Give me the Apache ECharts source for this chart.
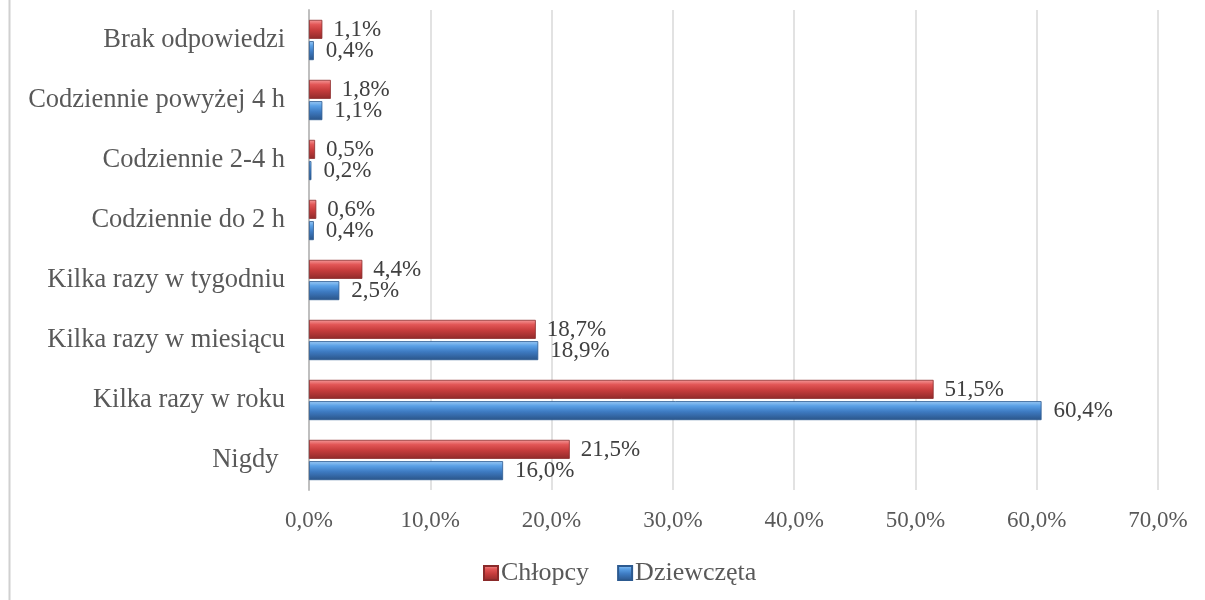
<!DOCTYPE html>
<html>
<head>
<meta charset="utf-8">
<script src="https://cdn.jsdelivr.net/npm/echarts@6/dist/echarts.min.js"></script>
<style>
  html, body { margin: 0; padding: 0; background: #fff; }
  #container { width: 1205px; height: 600px; }
</style>
</head>
<body>
<div id="container"></div>
<script>
// dane z wykresu (od dołu do góry)
var kategorie = ['Nigdy ', 'Kilka razy w roku', 'Kilka razy w miesiącu', 'Kilka razy w tygodniu',
  'Codziennie do 2 h', 'Codziennie 2-4 h', 'Codziennie powyżej 4 h', 'Brak odpowiedzi'];
var chlopcy = [21.5, 51.5, 18.7, 4.4, 0.6, 0.5, 1.8, 1.1];
var dziewczeta = [16.0, 60.4, 18.9, 2.5, 0.4, 0.2, 1.1, 0.4];
var osX = [0, 10, 20, 30, 40, 50, 60, 70];

var czcionka = '"Liberation Serif", "Times New Roman", serif';

var czerwony = new echarts.graphic.LinearGradient(0, 0, 0, 1, [
  { offset: 0, color: '#f59a9a' },
  { offset: 0.25, color: '#e25656' },
  { offset: 0.55, color: '#c63c3c' },
  { offset: 1, color: '#8f2a2a' }
]);
var niebieski = new echarts.graphic.LinearGradient(0, 0, 0, 1, [
  { offset: 0, color: '#9ccbf5' },
  { offset: 0.25, color: '#5aa0e6' },
  { offset: 0.55, color: '#3e7bc2' },
  { offset: 1, color: '#2a5488' }
]);

var fmt = function (v) { return v.toFixed(1).replace('.', ',') + '%'; };

var dom = document.getElementById('container');
var myChart = echarts.init(dom);
var option = {
  backgroundColor: '#fff',
  textStyle: { fontFamily: czcionka },
  animation: false,
  graphic: [{
    type: 'line',
    shape: { x1: 9.5, y1: 0, x2: 9.5, y2: 600 },
    style: { stroke: '#d0d0d0', lineWidth: 2 }
  }],
  grid: { left: 309, right: 47, top: 10, bottom: 110 },
  legend: {
    bottom: 9,
    left: 478,
    itemWidth: 14,
    itemHeight: 14,
    itemGap: 28,
    icon: 'rect',
    data: ['Chłopcy', 'Dziewczęta'],
    textStyle: { fontFamily: czcionka, fontSize: 26, color: '#595959', padding: [0, 0, 0, -2] }
  },
  xAxis: {
    type: 'value',
    min: osX[0],
    max: osX[osX.length - 1],
    interval: 10,
    axisLine: { show: false },
    axisTick: { show: false },
    splitLine: { lineStyle: { color: '#d9d9d9', width: 1.5 } },
    axisLabel: {
      fontFamily: czcionka, fontSize: 23, color: '#595959', margin: 19,
      formatter: function (v) { return fmt(v); }
    }
  },
  yAxis: {
    type: 'category',
    data: kategorie,
    axisLine: { lineStyle: { color: '#bfbfbf', width: 2 } },
    axisTick: { show: false },
    axisLabel: { fontFamily: czcionka, fontSize: 26.5, color: '#595959', margin: 24 }
  },
  series: [{
    name: 'Chłopcy',
    type: 'bar',
    data: chlopcy,
    barWidth: 19,
    barGap: '12%',
    itemStyle: { color: czerwony, borderColor: '#8a2a2a', borderWidth: 0.8 },
    label: {
      show: true, position: 'right', distance: 11, offset: [0, 1],
      fontFamily: czcionka, fontSize: 23, color: '#404040',
      formatter: function (p) { return fmt(p.value); }
    }
  }, {
    name: 'Dziewczęta',
    type: 'bar',
    data: dziewczeta,
    barWidth: 19,
    barGap: '12%',
    itemStyle: { color: niebieski, borderColor: '#2c5a90', borderWidth: 0.8 },
    label: {
      show: true, position: 'right', distance: 12,
      fontFamily: czcionka, fontSize: 23, color: '#404040',
      formatter: function (p) { return fmt(p.value); }
    }
  }]
};
myChart.setOption(option);
</script>
</body>
</html>
